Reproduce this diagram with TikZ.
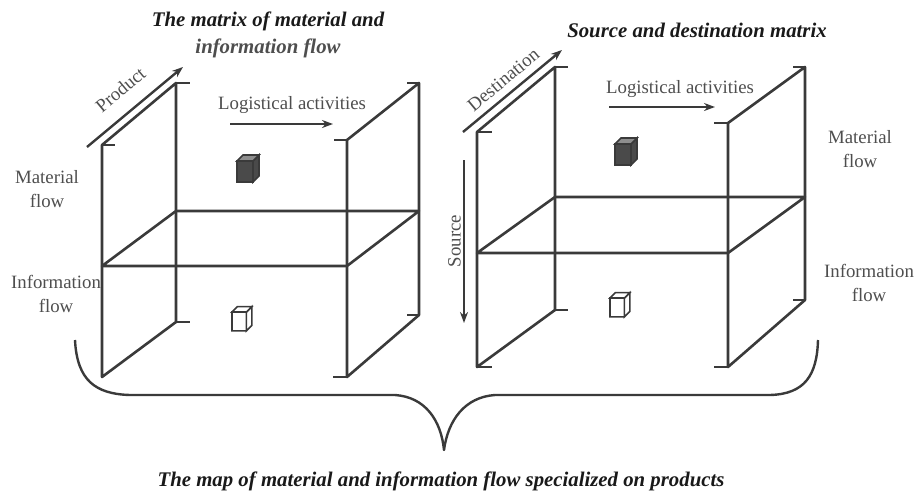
\documentclass[tikz,border=0pt]{standalone}
\usepackage{fontspec}
\setmainfont{Liberation Serif}
\usetikzlibrary{arrows.meta,positioning}

\definecolor{linegray}{HTML}{3A3A3A}
\definecolor{labelgray}{HTML}{4E4E4E}
\definecolor{cubegray}{HTML}{4A4A4A}
\definecolor{cubelight}{HTML}{8E8E8E}

\tikzset{
  cubetop/.style={},
  blockcube/.pic={
    \draw[pic actions] (0,0) rectangle (16,21) (16,0) -- (22,-6) -- (22,15) -- (16,21) -- cycle;
    \draw[pic actions, cubetop] (0,0) -- (6,-6) -- (22,-6) -- (16,0) -- cycle;
  }
}

\begin{document}
\begin{tikzpicture}[x=1pt, y=-1pt,
    edge/.style={draw=linegray, line width=2.6pt, line join=round},
    tick/.style={draw=linegray, line width=2.4pt},
    flow/.style={draw=linegray, line width=2.4pt, -{Stealth[length=11pt,width=8pt]}},
    lbl/.style={text=labelgray, font=\fontsize{18.8}{23.5}\selectfont, align=center, inner sep=0pt},
    ttl/.style={text=black!90, font=\fontsize{20.8}{27}\selectfont\bfseries\itshape, align=center, inner sep=0pt}]
\useasboundingbox (0,0) rectangle (922,491);

% headings
\node[ttl] (mtitle) at (268,35) {The matrix of material and\\{\color{labelgray}information flow}};
\node[ttl] (stitle) at (697,30) {Source and destination matrix};
\node[ttl] (maptitle) at (441,481) {The map of material and information flow specialized on products};

% product / logistics frame
\draw[edge] (102,145) -- (102,377) -- (176,322) -- (176,83) -- cycle;
\draw[edge] (347,140) -- (347,377) -- (419,315) -- (419,83) -- cycle;
\draw[edge] (102,266) -- (347,266) -- (419,211) -- (176,211) -- cycle;
\foreach \x/\y/\d in {102/145/13, 176/83/14, 347/140/-13, 419/83/-12,
                      176/322/14, 347/377/-14, 419/315/-12}
  \draw[tick] (\x,\y) -- ++(\d,0);

% source / destination frame
\draw[edge] (477,132) -- (477,367) -- (555,310) -- (555,67) -- cycle;
\draw[edge] (728,123) -- (728,367) -- (805,300) -- (805,67) -- cycle;
\draw[edge] (477,253) -- (728,253) -- (805,197) -- (555,197) -- cycle;
\foreach \x/\y/\d in {477/132/15, 555/67/13, 728/123/-14, 805/67/-12,
                      477/367/15, 555/310/13, 728/367/-14, 805/300/-12}
  \draw[tick] (\x,\y) -- ++(\d,0);

% axes
\coordinate (prodA) at (87,147);
\coordinate (prodB) at (183,67);
\draw[flow] (prodA) -- node[lbl, sloped, above=15pt] (prodlbl) {Product} (prodB);

\coordinate (destA) at (463,132);
\coordinate (destB) at (562,50);
\draw[flow] (destA) -- node[lbl, sloped, above=7pt] (destlbl) {Destination} (destB);

\coordinate (srcA) at (464,160);
\coordinate (srcB) at (464,323);
\draw[flow] (srcA) -- (srcB);
\node[lbl, rotate=90, anchor=south] (srclbl) at (461,241) {Source};

\coordinate (logLa) at (230,124);
\coordinate (logLb) at (333,124);
\draw[flow] (logLa) -- (logLb);
\node[lbl] (logL) at (292,105) {Logistical activities};

\coordinate (logRa) at (609,107);
\coordinate (logRb) at (715,107);
\draw[flow] (logRa) -- (logRb);
\node[lbl] (logR) at (680,89) {Logistical activities};

% row labels
\node[lbl] (matL) at (47,189) {Material\\flow};
\node[lbl] (infL) at (56,294) {Information\\flow};
\node[lbl] (matR) at (860,149) {Material\\flow};
\node[lbl] (infR) at (869,283) {Information\\flow};

% products in the cells
\pic[draw=linegray, line width=1.6pt, fill=cubegray, cubetop/.style={fill=cubelight}] (cubeL) at (237,161) {blockcube};
\pic[draw=linegray, line width=1.6pt, fill=cubegray, cubetop/.style={fill=cubelight}] (cubeR) at (615,144) {blockcube};
\pic[draw=linegray, line width=1.6pt, fill=white, scale=0.9] (icubeL) at (232,312) {blockcube};
\pic[draw=linegray, line width=1.6pt, fill=white, scale=0.9] (icubeR) at (610,298) {blockcube};

% brace over both matrices
\draw[edge, line width=2.4pt] (75,340) .. controls (77,380) and (95,394) .. (130,395) -- (395,395)
  .. controls (425,397) and (441,420) .. (444,450)
  .. controls (448,420) and (465,397) .. (495,395) -- (770,395)
  .. controls (805,394) and (817,375) .. (818,340);
\end{tikzpicture}
\end{document}
